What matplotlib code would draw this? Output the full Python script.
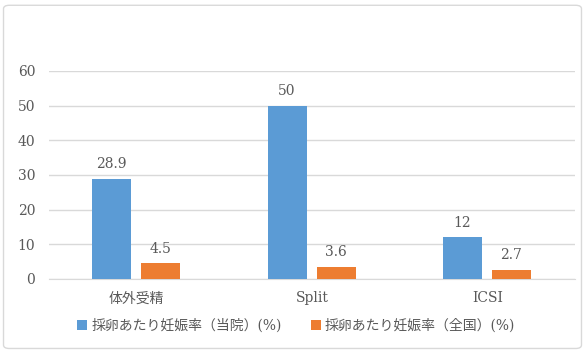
import matplotlib.pyplot as plt
import numpy as np
from matplotlib.patches import FancyBboxPatch

plt.rcParams['font.family'] = ['DejaVu Serif', 'Noto Sans CJK JP', 'DejaVu Sans']

categories = ['体外受精', 'Split', 'ICSI']
ours = [28.9, 50, 12]
national = [4.5, 3.6, 2.7]
labels = ['採卵あたり妊娠率（当院）(%)', '採卵あたり妊娠率（全国）(%)']

blue = '#5B9BD5'
orange = '#ED7D31'
gray = '#595959'

fig = plt.figure(figsize=(5.85, 3.52), dpi=100)
# outer border
fig.patches.append(FancyBboxPatch((0.006, 0.01), 0.988, 0.975, boxstyle='round,pad=0,rounding_size=0.01',
                                  transform=fig.transFigure, fill=False, edgecolor='#D9D9D9', linewidth=1))

ax = fig.add_axes([0.0838, 0.2074, 0.899, 0.591])
x = np.arange(len(categories))
w = 0.222
b1 = ax.bar(x - 0.142, ours, w, color=blue, label=labels[0], zorder=3)
b2 = ax.bar(x + 0.138, national, w, color=orange, label=labels[1], zorder=3)

for bars, vals in ((b1, ours), (b2, national)):
    for r, v in zip(bars, vals):
        ax.text(r.get_x() + r.get_width() / 2, v + 2.2, f'{v:g}', ha='center', va='bottom',
                fontsize=10, color=gray)

ax.set_xlim(-0.5, 2.5)
ax.set_ylim(0, 60)
ax.set_yticks(range(0, 61, 10))
ax.grid(axis='y', color='#D9D9D9', linewidth=1, zorder=0)
for s in ['top', 'right', 'left']:
    ax.spines[s].set_visible(False)
ax.spines['bottom'].set_color('#D9D9D9')
ax.tick_params(axis='both', length=0, colors=gray, labelsize=10)
ax.tick_params(axis='y', pad=10)
ax.tick_params(axis='x', pad=9)
ax.set_xticks(x)
ax.set_xticklabels(categories)

ax.legend(loc='upper center', bbox_to_anchor=(0.47, -0.13), ncol=2, frameon=False,
          fontsize=10, handlelength=0.7, handleheight=0.7, handletextpad=0.3,
          columnspacing=2.1, labelcolor=gray)

fig.savefig('out.png', dpi=100)
